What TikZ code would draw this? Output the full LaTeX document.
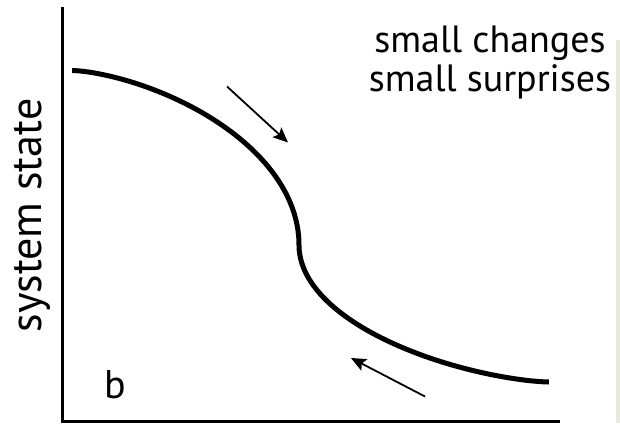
\documentclass[tikz,border=0pt]{standalone}
\usepackage{fontspec}
\setmainfont{PT Sans}
\usetikzlibrary{arrows.meta}
\definecolor{stripgreen}{RGB}{230,234,218}
\tikzset{
  axisline/.style={line width=3pt, line join=miter},
  curveline/.style={line width=5pt, line cap=butt, line join=round},
  hintarrow/.style={line width=1.8pt, -{Stealth[length=15pt,width=13pt,inset=3pt]}},
  lbl/.style={inner sep=0pt, font=\fontsize{38}{38}\selectfont}
}
\begin{document}
\begin{tikzpicture}[x=1pt,y=-1pt]
\useasboundingbox (0,0) rectangle (620,423);
\fill[white] (0,0) rectangle (620,423);
\fill[stripgreen] (616,40) rectangle (620,423);
% axes
\coordinate (ytop) at (62.5,7);
\coordinate (origin) at (62.5,421.5);
\coordinate (xend) at (560,421.5);
\draw[axisline] (ytop) -- (origin) -- (xend);
% curve: two arcs meeting smoothly at the inflection (299,245)
\draw[curveline]
  plot[domain=89.9:0, samples=200, variable=\t]
    ({72+227*pow(cos(\t),1.3)}, {245-174.5*sin(\t)})
  -- plot[domain=0:89.9, samples=200, variable=\t]
    ({549-250*pow(cos(\t),1.3)}, {245+137*sin(\t)});
% arrows
\coordinate (a1s) at (227,86.5);
\coordinate (a1e) at (288,142.5);
\draw[hintarrow] (a1s) -- (a1e);
\coordinate (a2s) at (425,396.5);
\coordinate (a2e) at (351,358);
\draw[hintarrow] (a2s) -- (a2e);
% labels
\node[lbl, anchor=base] (t1) at (490,52) {small changes};
\node[lbl, anchor=base] (t2) at (490,91) {small surprises};
\node[inner sep=0pt, anchor=base, rotate=90, font=\fontsize{44}{44}\selectfont] (ylab) at (41,215.5) {system state};
\node[inner sep=0pt, anchor=base west, font=\fontsize{40}{40}\selectfont] (b) at (104,398) {b};
\end{tikzpicture}
\end{document}
